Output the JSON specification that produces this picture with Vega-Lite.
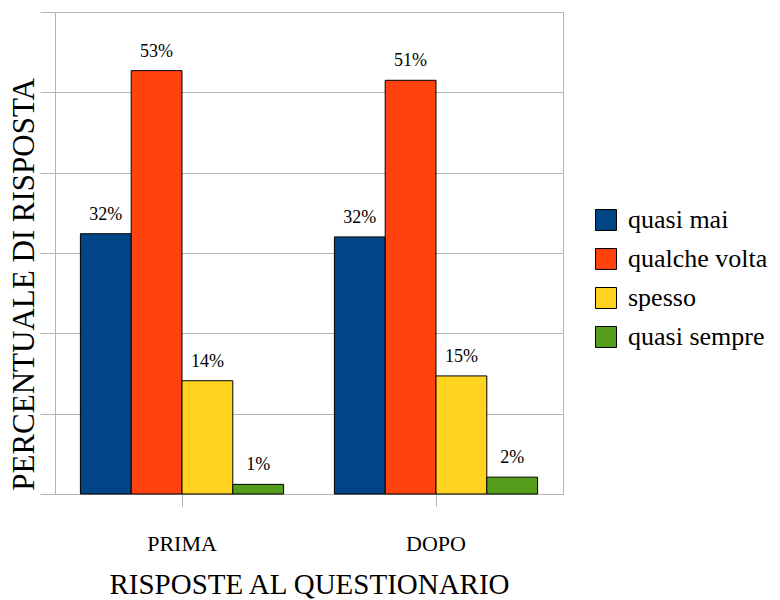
{
  "$schema": "https://vega.github.io/schema/vega-lite/v6.json",
  "autosize": "none",
  "width": 508,
  "height": 482,
  "padding": {"left": 55, "top": 12, "right": 217, "bottom": 106},
  "background": "white",
  "config": {
    "font": "Liberation Serif",
    "view": {"stroke": "#b3b3b3", "strokeWidth": 1},
    "axis": {"labelColor": "black", "titleColor": "black", "titleFontWeight": "normal"}
  },
  "data": {
    "values": [
      {"gruppo": "PRIMA", "risposta": "quasi mai", "valore": 32.4, "etichetta": "32%"},
      {"gruppo": "PRIMA", "risposta": "qualche volta", "valore": 52.7, "etichetta": "53%"},
      {"gruppo": "PRIMA", "risposta": "spesso", "valore": 14.1, "etichetta": "14%"},
      {"gruppo": "PRIMA", "risposta": "quasi sempre", "valore": 1.2, "etichetta": "1%"},
      {"gruppo": "DOPO", "risposta": "quasi mai", "valore": 32.0, "etichetta": "32%"},
      {"gruppo": "DOPO", "risposta": "qualche volta", "valore": 51.5, "etichetta": "51%"},
      {"gruppo": "DOPO", "risposta": "spesso", "valore": 14.7, "etichetta": "15%"},
      {"gruppo": "DOPO", "risposta": "quasi sempre", "valore": 2.1, "etichetta": "2%"}
    ]
  },
  "encoding": {
    "x": {
      "field": "gruppo", "type": "nominal", "sort": ["PRIMA", "DOPO"],
      "scale": {"paddingInner": 0.2, "paddingOuter": 0.1},
      "axis": {
        "title": "RISPOSTE AL QUESTIONARIO", "titleFont": "Liberation Serif", "titleFontSize": 29, "titleY": 99, "titleBaseline": "alphabetic",
        "labelAngle": 0, "labelFont": "Liberation Serif", "labelFontSize": 22, "labelBaseline": "alphabetic", "labelPadding": 44,
        "ticks": true, "tickSize": 12, "tickColor": "#b3b3b3", "tickBand": "center",
        "domainColor": "#b3b3b3", "grid": false
      }
    },
    "xOffset": {"field": "risposta", "type": "nominal", "sort": ["quasi mai", "qualche volta", "spesso", "quasi sempre"], "scale": {"paddingInner": 0, "paddingOuter": 0}},
    "y": {
      "field": "valore", "type": "quantitative",
      "scale": {"domain": [0, 60], "nice": false},
      "axis": {
        "title": "PERCENTUALE DI RISPOSTA", "titleFont": "Liberation Serif", "titleFontSize": 31, "titleAngle": -90, "titleX": -22, "titleY": 272,
        "titleBaseline": "alphabetic", "titleAlign": "center",
        "values": [0, 10, 20, 30, 40, 50, 60], "labels": false,
        "tickSize": 15, "tickColor": "#b3b3b3", "domainColor": "#b3b3b3",
        "grid": true, "gridColor": "#b3b3b3"
      }
    }
  },
  "layer": [
    {
      "mark": {"type": "bar", "stroke": "black", "strokeWidth": 1},
      "encoding": {
        "color": {
          "field": "risposta", "type": "nominal",
          "sort": ["quasi mai", "qualche volta", "spesso", "quasi sempre"],
          "scale": {"domain": ["quasi mai", "qualche volta", "spesso", "quasi sempre"], "range": ["#004586", "#ff420e", "#ffd320", "#579d1c"]},
          "legend": {
            "title": null, "orient": "none", "legendX": 538, "legendY": 195, "padding": 0,
            "symbolType": "square", "symbolSize": 441, "symbolStrokeColor": "black", "symbolStrokeWidth": 1, "symbolOpacity": 1,
            "labelFont": "Liberation Serif", "labelFontSize": 26, "labelColor": "black", "labelOffset": 9, "rowPadding": 13, "labelLimit": 300
          }
        }
      }
    },
    {
      "mark": {"type": "text", "font": "Liberation Serif", "baseline": "alphabetic", "dy": -14, "fontSize": 18, "color": "black"},
      "encoding": {"text": {"field": "etichetta"}}
    }
  ]
}
